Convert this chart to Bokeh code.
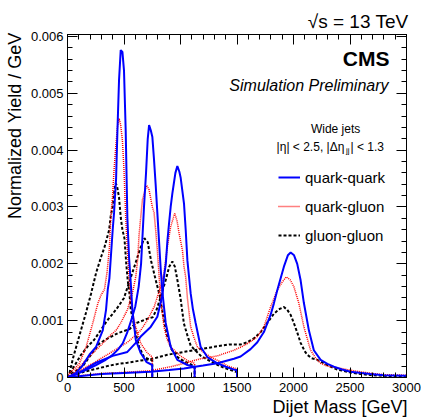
from bokeh.plotting import figure
from bokeh.models import (Range1d, SingleIntervalTicker, LinearAxis, Label, Legend,
                          LegendItem, CustomJSTickFormatter, Title)
from bokeh.embed import file_html
from bokeh.resources import INLINE

FONT = "Liberation Sans"

# ---------------- data (dijet mass [GeV], normalized yield / GeV) ----------------
mass_qq500 = [0, 40, 76, 130, 194, 253, 312, 341, 356, 371, 400, 412, 430, 442, 456, 471, 486, 500, 515, 530, 545, 560, 574, 604, 648, 700, 750, 750]
yield_qq500 = [0, 0.04e-3, 0.08e-3, 0.2e-3, 0.4e-3, 0.54e-3, 0.83e-3, 1.19e-3, 1.54e-3, 1.75e-3, 2.6e-3, 2.9e-3, 3.5e-3, 4.35e-3, 5.23e-3, 5.76e-3, 5.73e-3, 5.4e-3, 4.35e-3, 2.8e-3, 2.1e-3, 1.66e-3, 1.19e-3, 0.66e-3, 0.43e-3, 0.27e-3, 0.22e-3, 0]

mass_qg500 = [0, 18, 60, 106, 165, 224, 268, 297, 327, 350, 371, 383, 398, 412, 427, 442, 456, 470, 486, 500, 515, 530, 545, 560, 580, 604, 648, 707, 750, 750]
yield_qg500 = [0, 0.08e-3, 0.15e-3, 0.25e-3, 0.54e-3, 0.96e-3, 1.3e-3, 1.45e-3, 1.55e-3, 1.85e-3, 2.29e-3, 2.82e-3, 3.17e-3, 3.65e-3, 4.06e-3, 4.4e-3, 4.56e-3, 4.45e-3, 4.17e-3, 3.65e-3, 2.82e-3, 2.24e-3, 1.75e-3, 1.36e-3, 1.1e-3, 0.89e-3, 0.6e-3, 0.43e-3, 0.36e-3, 0]

mass_gg500 = [0, 20, 50, 100, 165, 209, 253, 297, 327, 368, 383, 400, 415, 427, 440, 456, 471, 486, 504, 520, 533, 548, 560, 604, 634, 677, 736, 750, 750]
yield_gg500 = [0, 0.1e-3, 0.35e-3, 0.7e-3, 1.15e-3, 1.48e-3, 1.84e-3, 2.12e-3, 2.29e-3, 2.59e-3, 2.85e-3, 3.0e-3, 3.3e-3, 3.42e-3, 3.35e-3, 3.17e-3, 2.82e-3, 2.6e-3, 2.45e-3, 2.0e-3, 1.71e-3, 1.48e-3, 1.19e-3, 0.78e-3, 0.54e-3, 0.36e-3, 0.31e-3, 0.3e-3, 0]

mass_qq750 = [0, 50, 106, 180, 253, 330, 400, 450, 489, 530, 563, 600, 630, 651, 677, 695, 710, 722, 737, 751, 765, 780, 795, 810, 825, 840, 869, 913, 972, 1061, 1119, 1125, 1125]
yield_qq750 = [0, 0.04e-3, 0.08e-3, 0.15e-3, 0.22e-3, 0.3e-3, 0.4e-3, 0.5e-3, 0.6e-3, 0.8e-3, 1.0e-3, 1.25e-3, 1.6e-3, 2.0e-3, 3.0e-3, 3.6e-3, 4.2e-3, 4.44e-3, 4.35e-3, 4.23e-3, 3.85e-3, 3.4e-3, 2.9e-3, 2.4e-3, 1.9e-3, 1.5e-3, 0.96e-3, 0.54e-3, 0.31e-3, 0.22e-3, 0.19e-3, 0.19e-3, 0]

mass_qg750 = [0, 40, 76, 194, 312, 383, 430, 471, 530, 574, 604, 622, 633, 648, 663, 680, 701, 722, 751, 766, 780, 795, 810, 825, 854, 880, 913, 960, 1000, 1060, 1125, 1125]
yield_qg750 = [0, 0.05e-3, 0.13e-3, 0.37e-3, 0.6e-3, 0.75e-3, 0.83e-3, 0.96e-3, 1.19e-3, 1.48e-3, 1.77e-3, 2.1e-3, 2.5e-3, 2.82e-3, 3.12e-3, 3.25e-3, 3.38e-3, 3.3e-3, 3.0e-3, 2.9e-3, 2.6e-3, 2.24e-3, 1.8e-3, 1.36e-3, 0.89e-3, 0.68e-3, 0.54e-3, 0.45e-3, 0.38e-3, 0.3e-3, 0.25e-3, 0]

mass_gg750 = [0, 60, 120, 180, 235, 300, 350, 400, 450, 500, 550, 600, 640, 680, 710, 740, 780, 815, 850, 880, 920, 960, 1000, 1050, 1100, 1125, 1125]
yield_gg750 = [0, 0.2e-3, 0.4e-3, 0.55e-3, 0.66e-3, 0.85e-3, 1.0e-3, 1.12e-3, 1.25e-3, 1.4e-3, 1.7e-3, 2.0e-3, 2.25e-3, 2.45e-3, 2.38e-3, 2.05e-3, 1.72e-3, 1.45e-3, 1.05e-3, 0.75e-3, 0.5e-3, 0.38e-3, 0.32e-3, 0.27e-3, 0.22e-3, 0.2e-3, 0]

mass_qq1000 = [0, 60, 135, 253, 400, 530, 600, 648, 736, 795, 840, 854, 870, 884, 898, 913, 928, 940, 955, 972, 990, 1001, 1031, 1046, 1061, 1090, 1110, 1134, 1178, 1237, 1326, 1400, 1488, 1500, 1500]
yield_qq1000 = [0, 0.05e-3, 0.12e-3, 0.26e-3, 0.38e-3, 0.45e-3, 0.6e-3, 0.72e-3, 0.89e-3, 1.07e-3, 1.45e-3, 1.77e-3, 2.0e-3, 2.4e-3, 2.7e-3, 3.0e-3, 3.24e-3, 3.4e-3, 3.6e-3, 3.72e-3, 3.62e-3, 3.52e-3, 3.06e-3, 2.6e-3, 2.06e-3, 1.48e-3, 1.2e-3, 0.96e-3, 0.54e-3, 0.36e-3, 0.25e-3, 0.19e-3, 0.13e-3, 0.13e-3, 0]

mass_qg1000 = [0, 60, 135, 250, 350, 450, 530, 589, 648, 707, 766, 825, 854, 884, 913, 949, 970, 987, 1017, 1031, 1046, 1061, 1090, 1120, 1149, 1200, 1267, 1350, 1420, 1500, 1500]
yield_qg1000 = [0, 0.06e-3, 0.15e-3, 0.28e-3, 0.4e-3, 0.52e-3, 0.62e-3, 0.72e-3, 0.83e-3, 1.01e-3, 1.24e-3, 1.6e-3, 1.85e-3, 2.3e-3, 2.65e-3, 2.89e-3, 2.75e-3, 2.54e-3, 2.24e-3, 1.95e-3, 1.77e-3, 1.4e-3, 0.89e-3, 0.7e-3, 0.54e-3, 0.45e-3, 0.36e-3, 0.28e-3, 0.2e-3, 0.15e-3, 0]

mass_gg1000 = [0, 60, 135, 200, 283, 350, 445, 548, 600, 651, 700, 754, 790, 825, 870, 900, 928, 950, 972, 1000, 1030, 1060, 1090, 1120, 1180, 1250, 1330, 1400, 1490, 1500, 1500]
yield_gg1000 = [0, 0.1e-3, 0.2e-3, 0.38e-3, 0.6e-3, 0.68e-3, 0.78e-3, 0.85e-3, 0.95e-3, 0.99e-3, 1.03e-3, 1.06e-3, 1.2e-3, 1.42e-3, 1.72e-3, 1.95e-3, 2.04e-3, 1.95e-3, 1.72e-3, 1.4e-3, 0.95e-3, 0.75e-3, 0.56e-3, 0.5e-3, 0.38e-3, 0.3e-3, 0.22e-3, 0.16e-3, 0.1e-3, 0.1e-3, 0]

mass_qq2000 = [0, 100, 300, 500, 736, 900, 1031, 1200, 1326, 1473, 1532, 1620, 1680, 1738, 1797, 1826, 1857, 1915, 1950, 1975, 2005, 2033, 2063, 2092, 2136, 2180, 2240, 2300, 2357, 2430, 2505, 2600, 2682, 2800, 2900, 3000]
yield_qq2000 = [0, 0.02e-3, 0.06e-3, 0.08e-3, 0.1e-3, 0.13e-3, 0.16e-3, 0.21e-3, 0.25e-3, 0.33e-3, 0.37e-3, 0.5e-3, 0.62e-3, 0.8e-3, 1.1e-3, 1.3e-3, 1.54e-3, 1.95e-3, 2.15e-3, 2.2e-3, 2.15e-3, 2.0e-3, 1.71e-3, 1.31e-3, 0.83e-3, 0.48e-3, 0.31e-3, 0.24e-3, 0.19e-3, 0.14e-3, 0.1e-3, 0.08e-3, 0.06e-3, 0.04e-3, 0.035e-3, 0.03e-3]

mass_qg2000 = [0, 100, 294, 500, 736, 913, 1050, 1178, 1326, 1473, 1550, 1620, 1680, 1738, 1797, 1857, 1900, 1936, 1970, 2003, 2047, 2092, 2151, 2200, 2240, 2300, 2387, 2500, 2593, 2700, 2800, 2900, 3000]
yield_qg2000 = [0, 0.03e-3, 0.07e-3, 0.09e-3, 0.12e-3, 0.19e-3, 0.26e-3, 0.33e-3, 0.38e-3, 0.48e-3, 0.55e-3, 0.63e-3, 0.72e-3, 0.89e-3, 1.24e-3, 1.54e-3, 1.68e-3, 1.77e-3, 1.72e-3, 1.6e-3, 1.31e-3, 0.89e-3, 0.48e-3, 0.33e-3, 0.25e-3, 0.2e-3, 0.17e-3, 0.13e-3, 0.1e-3, 0.07e-3, 0.05e-3, 0.045e-3, 0.04e-3]

mass_gg2000 = [0, 50, 144, 250, 350, 450, 530, 650, 736, 884, 1031, 1120, 1178, 1326, 1430, 1530, 1591, 1650, 1710, 1768, 1826, 1870, 1915, 1945, 1975, 2003, 2035, 2063, 2100, 2122, 2160, 2210, 2298, 2387, 2500, 2600, 2700, 2800, 2900, 3000]
yield_gg2000 = [0, 0.03e-3, 0.1e-3, 0.15e-3, 0.2e-3, 0.24e-3, 0.26e-3, 0.3e-3, 0.32e-3, 0.4e-3, 0.45e-3, 0.48e-3, 0.5e-3, 0.55e-3, 0.58e-3, 0.58e-3, 0.62e-3, 0.69e-3, 0.8e-3, 0.96e-3, 1.12e-3, 1.2e-3, 1.24e-3, 1.19e-3, 1.1e-3, 0.96e-3, 0.78e-3, 0.61e-3, 0.46e-3, 0.4e-3, 0.34e-3, 0.31e-3, 0.22e-3, 0.14e-3, 0.09e-3, 0.06e-3, 0.04e-3, 0.03e-3, 0.02e-3, 0.02e-3]

series_labels = ["quark-quark", "quark-gluon", "gluon-gluon"]
x_ticks_interval = 500
y_ticks_interval = 0.001

# ---------------- figure ----------------
p = figure(width=421, height=417, output_backend="svg", toolbar_location=None,
           x_range=Range1d(0, 3000), y_range=Range1d(0, 0.006035),
           x_axis_type=None, y_axis_type=None,
           min_border_left=67, min_border_right=15, min_border_top=34, min_border_bottom=40)
p.outline_line_color = "black"
p.outline_line_width = 1
p.background_fill_color = "white"
p.border_fill_color = "white"


def style_axis(ax, show_labels):
    ax.major_tick_in = 10
    ax.major_tick_out = 0
    ax.minor_tick_in = 5
    ax.minor_tick_out = 0
    ax.axis_line_color = "black"
    ax.major_tick_line_color = "black"
    ax.minor_tick_line_color = "black"
    ax.major_label_text_font = FONT
    ax.major_label_text_color = "black"
    if show_labels:
        ax.major_label_text_font_size = "13px"
    else:
        ax.formatter = CustomJSTickFormatter(code="return '';")
        ax.major_label_text_font_size = "1px"
        ax.major_label_standoff = 0


xb = LinearAxis(ticker=SingleIntervalTicker(interval=x_ticks_interval, num_minor_ticks=5))
style_axis(xb, True)
xb.major_label_standoff = 5
p.add_layout(xb, "below")
xt = LinearAxis(ticker=SingleIntervalTicker(interval=x_ticks_interval, num_minor_ticks=5))
style_axis(xt, False)
p.add_layout(xt, "above")

yfmt = CustomJSTickFormatter(code="return tick == 0 ? '0' : tick.toFixed(3);")
yl = LinearAxis(ticker=SingleIntervalTicker(interval=y_ticks_interval, num_minor_ticks=5), formatter=yfmt)
style_axis(yl, True)
yl.major_label_standoff = 4
p.add_layout(yl, "left")
yr = LinearAxis(ticker=SingleIntervalTicker(interval=y_ticks_interval, num_minor_ticks=5))
style_axis(yr, False)
p.add_layout(yr, "right")

# titles placed in the side panels
p.title.text = "√s = 13 TeV"
p.title.align = "right"
p.title.offset = -2
p.title.standoff = 6
p.title.text_font = FONT
p.title.text_font_size = "19px"
p.title.text_font_style = "normal"
p.title.text_color = "black"

xtitle = Title(text="Dijet Mass [GeV]", align="right", offset=-1, standoff=0,
               text_font=FONT, text_font_size="18px", text_font_style="normal", text_color="black")
p.add_layout(xtitle, "below")
ytitle = Title(text="Normalized Yield / GeV", align="right", offset=-2, standoff=5,
               text_font=FONT, text_font_size="18px", text_font_style="normal", text_color="black")
p.add_layout(ytitle, "left")

# ---------------- curves ----------------
gg_style = dict(line_color="black", line_width=2, line_dash="3 2")
qg_style = dict(line_color="#ff0000", line_width=1.5, line_dash="1 1")
qq_style = dict(line_color="#0000ff", line_width=2)

r_gg = None
for xs, ys in [(mass_gg500, yield_gg500), (mass_gg750, yield_gg750),
               (mass_gg1000, yield_gg1000), (mass_gg2000, yield_gg2000)]:
    r_gg = p.line(xs, ys, **gg_style)
r_qg = None
for xs, ys in [(mass_qg500, yield_qg500), (mass_qg750, yield_qg750),
               (mass_qg1000, yield_qg1000), (mass_qg2000, yield_qg2000)]:
    r_qg = p.line(xs, ys, **qg_style)
r_qq = None
for xs, ys in [(mass_qq500, yield_qq500), (mass_qq750, yield_qq750),
               (mass_qq1000, yield_qq1000), (mass_qq2000, yield_qq2000)]:
    r_qq = p.line(xs, ys, **qq_style)

# ---------------- legend ----------------
legend = Legend(items=[LegendItem(label=series_labels[0], renderers=[r_qq]),
                       LegendItem(label=series_labels[1], renderers=[r_qg]),
                       LegendItem(label=series_labels[2], renderers=[r_gg])],
                location=(211, 132), orientation="vertical",
                label_text_font=FONT, label_text_font_size="15px", label_text_color="black",
                glyph_width=22, glyph_height=20, label_height=20, spacing=9,
                padding=0, margin=0, label_standoff=5,
                border_line_alpha=0, background_fill_alpha=0)
p.add_layout(legend)

# ---------------- texts inside the frame ----------------
def px_to_x(px):
    return (px - 66.7) * 3000 / 339.3


def py_to_y(py):
    return (377.5 - py) * 0.006035 / 343.5


texts = [
    dict(text="CMS", x=px_to_x(389), y=py_to_y(58), text_align="right",
         text_font_size="21px", text_font_style="bold"),
    dict(text="Simulation Preliminary", x=px_to_x(388), y=py_to_y(85), text_align="right",
         text_font_size="16px", text_font_style="italic"),
    dict(text="Wide jets", x=px_to_x(335), y=py_to_y(129), text_align="center",
         text_font_size="12px", text_font_style="normal"),
    dict(text="|η| < 2.5, |Δη", x=px_to_x(276), y=py_to_y(147), text_align="left",
         text_font_size="12px", text_font_style="normal"),
    dict(text="jj", x=px_to_x(345.5), y=py_to_y(150), text_align="left",
         text_font_size="8px", text_font_style="normal"),
    dict(text="| < 1.3", x=px_to_x(350), y=py_to_y(147), text_align="left",
         text_font_size="12px", text_font_style="normal"),
]
for t in texts:
    p.add_layout(Label(x=t["x"], y=t["y"], text=t["text"], text_align=t["text_align"],
                       text_baseline="middle", text_font=FONT, text_font_size=t["text_font_size"],
                       text_font_style=t["text_font_style"], text_color="black"))

open("out.html", "w").write(file_html(p, INLINE))
